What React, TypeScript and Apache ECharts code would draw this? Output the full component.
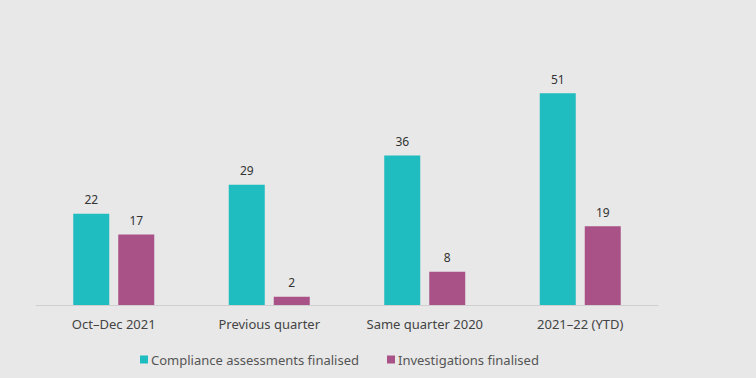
import React, { useEffect, useRef } from "react";
import * as echarts from "echarts";

const categories = ["Oct–Dec 2021", "Previous quarter", "Same quarter 2020", "2021–22 (YTD)"];
const complianceValues = [22, 29, 36, 51];
const investigationValues = [17, 2, 8, 19];
const seriesNames = ["Compliance assessments finalised", "Investigations finalised"];

const FONT = "'Noto Sans', 'Open Sans', sans-serif";

export default function App() {
  const ref = useRef<HTMLDivElement>(null);
  useEffect(() => {
    if (!ref.current) return;
    const chart = echarts.init(ref.current, null, { renderer: "svg" });
    chart.setOption({
      animation: false,
      backgroundColor: "#e8e8e8",
      textStyle: { fontFamily: FONT },
      grid: { left: 36, right: 98, top: 56, bottom: 73, containLabel: false },
      legend: {
        left: 135,
        top: 348,
        itemWidth: 8,
        itemHeight: 8,
        itemGap: 28,
        icon: "rect",
        textStyle: { color: "#555", fontSize: 13, fontFamily: FONT, padding: [0, 0, 0, -2] },
        data: seriesNames,
      },
      xAxis: {
        type: "category",
        data: categories,
        axisLine: { show: true, lineStyle: { color: "#cfcfcf", width: 1 } },
        axisTick: { show: false },
        axisLabel: { color: "#444", fontSize: 13, margin: 12, fontFamily: FONT },
      },
      yAxis: {
        type: "value",
        min: 0,
        max: 60,
        show: false,
        splitLine: { show: false },
      },
      series: [
        {
          name: seriesNames[0],
          type: "bar",
          data: complianceValues,
          barWidth: 36,
          barGap: "25%",
          itemStyle: { color: "#1fbcc0" },
          label: { show: true, position: "top", color: "#333", fontSize: 12, distance: 8, fontFamily: FONT },
        },
        {
          name: seriesNames[1],
          type: "bar",
          data: investigationValues,
          barWidth: 36,
          itemStyle: { color: "#a85287" },
          label: { show: true, position: "top", color: "#333", fontSize: 12, distance: 8, fontFamily: FONT },
        },
      ],
    });
    return () => chart.dispose();
  }, []);
  return <div ref={ref} style={{ width: 756, height: 378, position: "absolute", left: 0, top: 0 }} />;
}
